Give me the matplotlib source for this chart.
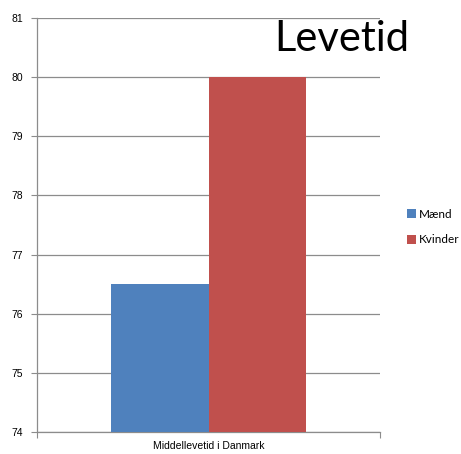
import matplotlib.pyplot as plt
import numpy as np

# middellevetid i Danmark
category = "Middellevetid i Danmark"
series = ["Mænd", "Kvinder"]
values = [76.5, 80.0]
colors = ["#4F81BD", "#C0504D"]
yticks = [74, 75, 76, 77, 78, 79, 80, 81]

fig = plt.figure(figsize=(4.61, 4.54), dpi=100)
ax = fig.add_axes([37 / 461, 1 - 432 / 454, 343 / 461, 414 / 454])

width = 0.285
x0 = 0.0
offsets = np.array([-0.5, 0.5]) * width
for name, val, col, off in zip(series, values, colors, offsets):
    ax.bar(x0 + off, val - yticks[0], bottom=yticks[0], width=width,
           color=col, label=name, zorder=3)

ax.set_xlim(-0.5, 0.5)
ax.set_ylim(yticks[0], yticks[-1])
ax.set_yticks(yticks)
ax.set_yticklabels([str(t) for t in yticks], fontsize=7.5,
                   family="Liberation Sans")
ax.yaxis.grid(True, color="#8c8c8c", linewidth=0.9, zorder=0)
ax.set_xticks([-0.5, 0.5])
ax.set_xticklabels(["", ""])
ax.tick_params(axis="y", length=4, color="#8c8c8c", pad=6)
ax.tick_params(axis="x", length=4, color="#8c8c8c")
ax.text(0.5, -0.022, category, transform=ax.transAxes, ha="center", va="top",
        fontsize=7.5, family="Liberation Sans")

for s in ["top", "right"]:
    ax.spines[s].set_visible(False)
for s in ["left", "bottom"]:
    ax.spines[s].set_color("#8c8c8c")
    ax.spines[s].set_linewidth(0.9)

fig.text(274 / 461, 1 - 39 / 454, "Levetid", fontsize=30, family="Lato",
         ha="left", va="center")

leg = fig.legend(loc="center left", bbox_to_anchor=(407 / 461, 1 - 227 / 454),
                 frameon=False, prop={"family": "Lato", "size": 8.5},
                 handlelength=0.75, handleheight=0.75, handletextpad=0.25,
                 labelspacing=1.25, borderpad=0, borderaxespad=0)

fig.savefig("out.png", dpi=100)
